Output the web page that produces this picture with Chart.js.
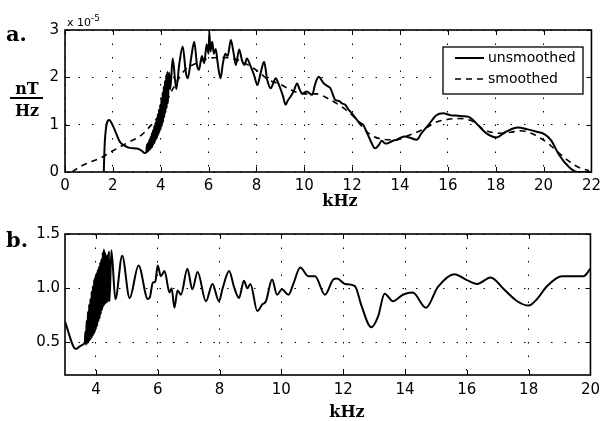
<!DOCTYPE html>
<html>
<head>
<meta charset="utf-8">
<script src="https://cdn.jsdelivr.net/npm/chart.js@4.4.1/dist/chart.umd.min.js"></script>
<style>
  html,body{margin:0;padding:0;background:#fff;}
  #wrap{position:relative;width:606px;height:421px;overflow:hidden;background:#fff;}
  canvas{position:absolute;left:0;}
  .lab{position:absolute;line-height:1;color:#000;white-space:nowrap;}
  .serif{font-family:"DejaVu Serif",serif;font-weight:bold;}
  .sans{font-family:"DejaVu Sans",sans-serif;}
</style>
</head>
<body>
<div id="wrap">
  <canvas id="ca" width="606" height="200" style="top:0"></canvas>
  <canvas id="cb" width="606" height="221" style="top:200px"></canvas>
  <div class="lab serif" style="left:6px;top:23px;font-size:21px;">a.</div>
  <div class="lab serif" style="left:6px;top:229px;font-size:21px;">b.</div>
  <div class="lab serif" style="left:8px;top:81px;width:38px;text-align:center;font-size:16px;">nT</div>
  <div style="position:absolute;left:10px;top:97px;width:33px;height:2px;background:#000;"></div>
  <div class="lab serif" style="left:8px;top:103px;width:38px;text-align:center;font-size:16px;">Hz</div>
  <div class="lab sans" style="left:67px;top:17px;font-size:11px;">x 10<span style="font-size:9px;position:relative;top:-5px;">-5</span></div>
  <div class="lab serif" style="left:300px;top:193px;width:80px;text-align:center;font-size:16px;">kHz</div>
  <div class="lab serif" style="left:307px;top:404px;width:80px;text-align:center;font-size:16px;">kHz</div>
</div>
<script>
// ---------- Panel a: spectral density (units of 1e-5 nT/Hz) ----------
const unsmoothedX = [1.62,1.66,1.72,1.85,2.0,2.29,2.5,2.7,3.05,3.2,3.33,
  3.400,3.425,3.450,3.475,3.500,3.525,3.550,3.575,3.600,3.625,3.650,3.675,3.700,3.725,3.750,3.775,3.800,3.825,3.850,3.875,
  3.900,3.925,3.950,3.975,4.000,4.025,4.050,4.075,4.100,4.125,4.150,4.175,4.200,4.225,4.250,4.275,4.300,4.35,4.40,
  4.5,4.65,4.78,4.92,5.05,5.13,5.27,5.4,5.52,5.6,5.72,5.82,5.92,6.0,6.03,6.08,6.15,6.22,6.3,6.38,6.5,6.6,6.7,6.8,6.93,7.05,7.14,7.28,7.4,7.5,7.6,7.76,7.9,
  8.04,8.18,8.32,8.45,8.6,8.72,8.8,8.94,9.1,9.22,9.3,9.42,9.55,9.7,9.8,9.91,10.1,10.33,10.45,10.6,10.8,10.95,11.09,11.3,11.45,11.57,11.71,11.85,11.99,
  12.27,12.47,12.6,12.75,12.96,13.1,13.24,13.38,13.51,13.7,13.86,14.0,14.2,14.45,14.69,14.9,15.18,15.52,15.8,16.1,16.42,16.63,16.84,17.05,17.26,17.6,
  18.02,18.43,18.92,19.33,19.7,20.03,20.3,20.65,21.07,21.4,22.0];
const unsmoothedY = [0.0,0.6,0.95,1.1,0.98,0.64,0.55,0.51,0.49,0.45,0.40,
  0.42,0.58,0.43,0.62,0.45,0.68,0.47,0.74,0.50,0.82,0.53,0.88,0.58,0.97,0.62,1.04,0.68,1.12,0.72,1.22,
  0.78,1.32,0.84,1.42,0.90,1.55,0.97,1.68,1.05,1.80,1.15,1.92,1.25,2.05,1.35,2.12,1.45,2.10,1.75,
  2.40,1.75,2.30,2.65,2.10,1.98,2.40,2.75,2.25,2.16,2.45,2.30,2.70,2.50,2.97,2.55,2.75,2.50,2.60,2.30,1.98,2.30,2.50,2.45,2.79,2.50,2.26,2.59,2.35,2.26,2.40,2.23,2.05,
  1.84,2.10,2.33,1.95,1.77,1.90,1.98,1.84,1.62,1.42,1.50,1.59,1.70,1.87,1.75,1.66,1.70,1.63,1.85,2.01,1.88,1.82,1.77,1.52,1.50,1.45,1.42,1.32,1.24,
  1.06,0.99,0.85,0.68,0.50,0.56,0.66,0.60,0.61,0.66,0.68,0.72,0.75,0.72,0.68,0.82,0.99,1.20,1.24,1.20,1.19,1.18,1.17,1.10,0.99,0.82,
  0.73,0.85,0.94,0.90,0.85,0.80,0.68,0.36,0.10,0.0,0.0];
const smoothedX = [0.3,0.62,1.0,1.46,1.9,2.29,2.7,3.12,3.6,4.0,4.5,5.0,5.5,6.0,6.5,7.0,7.5,8.0,8.5,9.0,9.5,10.0,10.5,11.0,11.5,12.0,12.68,13.2,13.8,
  14.4,15.04,15.5,15.87,16.4,17.0,17.53,18.15,18.6,19.06,19.4,19.75,20.2,20.58,21.0,21.28,21.6,21.9];
const smoothedY = [0.0,0.11,0.2,0.29,0.42,0.53,0.64,0.75,0.99,1.25,1.75,2.15,2.3,2.4,2.42,2.4,2.3,2.15,1.95,1.85,1.72,1.65,1.65,1.55,1.4,1.2,0.82,0.7,0.68,
  0.78,0.92,1.05,1.1,1.13,1.08,0.89,0.82,0.84,0.87,0.83,0.75,0.6,0.43,0.25,0.15,0.07,0.03];
const xTicksA = [0,2,4,6,8,10,12,14,16,18,20,22];
const yTicksA = [0,1,2,3];
const seriesNames = ["unsmoothed","smoothed"];

// ---------- Panel b: ratio ----------
const ratioX = [3.0,3.35,3.54,3.64,
  3.66,3.68,3.70,3.72,3.74,3.76,3.78,3.80,3.82,3.84,3.86,3.88,3.90,3.92,3.94,3.96,3.98,4.00,4.02,4.04,4.06,4.08,4.10,4.12,4.14,4.16,4.18,4.20,
  4.22,4.24,4.26,4.28,4.30,4.32,4.34,4.36,4.38,4.40,4.42,4.44,4.50,4.63,
  4.85,5.09,5.38,5.68,5.75,5.84,5.92,6.0,6.1,6.22,6.38,6.45,6.54,6.64,6.75,6.96,7.12,7.29,7.56,7.77,7.98,8.1,8.31,8.47,8.63,8.79,8.9,9.0,
  9.22,9.38,9.5,9.7,9.86,10.02,10.23,10.4,10.61,10.88,11.09,11.41,11.68,11.8,12.06,12.38,12.59,12.91,13.13,13.34,13.61,13.93,14.25,14.68,
  15.06,15.6,15.97,16.34,16.77,17.2,17.63,18.0,18.27,18.6,19.08,19.77,20.0];
const ratioY = [0.69,0.44,0.475,0.50,
  0.60,0.48,0.70,0.49,0.78,0.50,0.85,0.52,0.90,0.53,0.97,0.55,1.02,0.57,1.08,0.59,1.11,0.62,1.14,0.65,1.17,0.69,1.20,0.72,1.24,0.76,1.27,0.80,
  1.33,0.83,1.36,0.85,1.33,0.86,1.30,0.87,1.31,0.88,1.34,0.88,1.35,0.90,
  1.30,0.91,1.21,0.90,0.92,1.05,1.06,1.21,1.11,1.16,0.96,1.00,0.82,0.98,0.94,1.18,0.99,1.15,0.88,1.04,0.88,1.00,1.16,1.01,0.91,1.07,1.00,1.04,
  0.79,0.85,0.88,1.08,0.94,0.99,0.94,1.05,1.19,1.11,1.11,0.94,1.08,1.09,1.04,1.02,0.84,0.64,0.74,0.95,0.88,0.94,0.96,0.82,
  1.01,1.13,1.08,1.04,1.10,0.99,0.88,0.84,0.90,1.02,1.11,1.11,1.18];
const xTicksB = [4,6,8,10,12,14,16,18,20];
const yTicksB = [0.5,1.0,1.5];

const pts = (xs, ys) => xs.map((x, i) => ({x, y: ys[i]}));

const framePlugin = {
  id: 'frame',
  afterDatasetsDraw(chart) {
    const {ctx, chartArea: a, scales: {x, y}} = chart;
    ctx.save();
    ctx.strokeStyle = '#000';
    ctx.lineWidth = 1;
    const L = 5;
    ctx.beginPath();
    x.ticks.forEach(t => {
      const px = Math.round(x.getPixelForValue(t.value)) + 0.5;
      ctx.moveTo(px, a.bottom); ctx.lineTo(px, a.bottom - L);
      ctx.moveTo(px, a.top); ctx.lineTo(px, a.top + L);
    });
    y.ticks.forEach(t => {
      const py = Math.round(y.getPixelForValue(t.value)) + 0.5;
      ctx.moveTo(a.left, py); ctx.lineTo(a.left + L, py);
      ctx.moveTo(a.right, py); ctx.lineTo(a.right - L, py);
    });
    ctx.stroke();
    ctx.lineWidth = 1.6;
    ctx.strokeRect(a.left, a.top, a.right - a.left, a.bottom - a.top);
    ctx.restore();
  }
};

const legendPlugin = {
  id: 'boxLegend',
  afterDraw(chart) {
    const {ctx} = chart;
    const bx = 443, by = 47, bw = 140, bh = 47;
    ctx.save();
    ctx.fillStyle = '#fff';
    ctx.fillRect(bx, by, bw, bh);
    ctx.strokeStyle = '#000';
    ctx.lineWidth = 1.3;
    ctx.strokeRect(bx, by, bw, bh);
    chart.data.datasets.forEach((ds, i) => {
      const yy = by + 11 + i * 21;
      ctx.beginPath();
      ctx.lineWidth = ds.borderWidth;
      ctx.setLineDash(ds.borderDash || []);
      ctx.moveTo(455, yy); ctx.lineTo(484, yy);
      ctx.stroke();
      ctx.setLineDash([]);
      ctx.fillStyle = '#000';
      ctx.font = '14px "DejaVu Sans"';
      ctx.textBaseline = 'middle';
      ctx.fillText(ds.label, 488, yy + 0.5);
    });
    ctx.restore();
  }
};

function axisCommon(ticksArr, extra) {
  return Object.assign({
    type: 'linear',
    afterBuildTicks: s => { s.ticks = ticksArr.map(v => ({value: v})); },
    grid: {color: '#000', lineWidth: 1, drawTicks: false},
    border: {display: false, dash: [1.5, 12]},
    ticks: {color: '#000', font: {family: 'DejaVu Sans', size: 15}}
  }, extra);
}

new Chart(document.getElementById('ca'), {
  type: 'line',
  data: {
    datasets: [
      {label: seriesNames[0], data: pts(unsmoothedX, unsmoothedY), borderColor: '#000', borderWidth: 2,
       pointRadius: 0, cubicInterpolationMode: 'monotone', fill: false},
      {label: seriesNames[1], data: pts(smoothedX, smoothedY), borderColor: '#000', borderWidth: 1.6,
       borderDash: [6, 5], pointRadius: 0, cubicInterpolationMode: 'monotone', fill: false}
    ]
  },
  options: {
    responsive: false, animation: false, devicePixelRatio: 1,
    layout: {padding: {top: 30, right: 12, left: 0, bottom: 0}},
    plugins: {legend: {display: false}, tooltip: {enabled: false}},
    scales: {
      x: axisCommon(xTicksA, {min: 0, max: 22, afterFit: s => { s.height = 28; },
        ticks: {color: '#000', padding: 5, maxRotation: 0, font: {family: 'DejaVu Sans', size: 15}}}),
      y: axisCommon(yTicksA, {min: 0, max: 3, afterFit: s => { s.width = 65; },
        ticks: {color: '#000', padding: 6, font: {family: 'DejaVu Sans', size: 15}}})
    }
  },
  plugins: [framePlugin, legendPlugin]
});

new Chart(document.getElementById('cb'), {
  type: 'line',
  data: {
    datasets: [
      {label: 'ratio', data: pts(ratioX, ratioY), borderColor: '#000', borderWidth: 2,
       pointRadius: 0, cubicInterpolationMode: 'monotone', fill: false}
    ]
  },
  options: {
    responsive: false, animation: false, devicePixelRatio: 1,
    layout: {padding: {top: 34, right: 12, left: 0, bottom: 0}},
    plugins: {legend: {display: false}, tooltip: {enabled: false}},
    scales: {
      x: axisCommon(xTicksB, {min: 3, max: 20, afterFit: s => { s.height = 46; },
        ticks: {color: '#000', padding: 6, maxRotation: 0, font: {family: 'DejaVu Sans', size: 15}}}),
      y: axisCommon(yTicksB, {min: 0.2, max: 1.5, afterFit: s => { s.width = 65; },
        ticks: {color: '#000', padding: 5, font: {family: 'DejaVu Sans', size: 15},
          callback: v => Number(v).toFixed(1)}})
    }
  },
  plugins: [framePlugin]
});
</script>
</body>
</html>
